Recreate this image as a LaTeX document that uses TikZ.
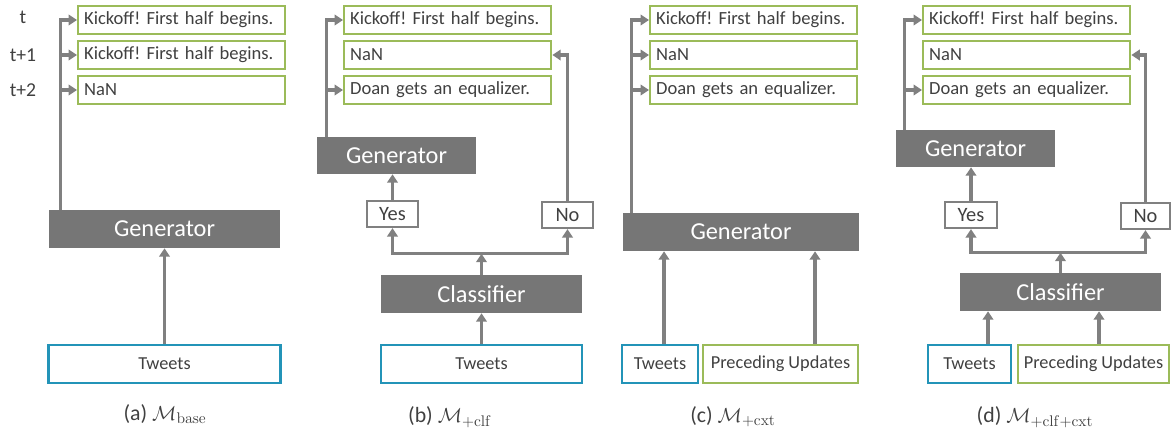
\documentclass[tikz,border=0pt]{standalone}
\usepackage[no-math]{fontspec}
\setmainfont{Carlito}
\usepackage{amsmath}
\usetikzlibrary{arrows.meta,positioning}

\definecolor{linegray}{HTML}{808080}
\definecolor{blockgray}{HTML}{767676}
\definecolor{outgreen}{HTML}{9BBB59}
\definecolor{inblue}{HTML}{2394B8}
\definecolor{txtgray}{HTML}{404040}

% one pixel of the layout
\newcommand{\pxu}{0.025cm}

\tikzset{
  sz/.style 2 args={minimum width=#1*\pxu, minimum height=#2*\pxu},
}

\begin{document}
\frenchspacing
\begin{tikzpicture}[x=\pxu, y=-\pxu]
        % Define the styles
        \tikzstyle{arr}=[draw=linegray, line width=2.3pt, -{Triangle[length=6pt,width=7.5pt]}];
        \tikzstyle{outbox}=[draw=outgreen, line width=1.6pt, anchor=west, inner xsep=0.15cm, inner ysep=0pt,
                            text width=4.875cm, minimum height=0.7cm, align=left, text=txtgray,
                            font=\fontsize{13.2}{15}\selectfont];
        \tikzstyle{block}=[fill=blockgray, inner sep=0pt, text=white, font=\fontsize{17.3}{20}\selectfont];
        \tikzstyle{tweetbox}=[draw=inblue, line width=1.6pt, fill=white, inner sep=0pt, text=txtgray,
                              font=\fontsize{13}{15}\selectfont];
        \tikzstyle{ctxbox}=[tweetbox, draw=outgreen];
        \tikzstyle{decision}=[draw=linegray, line width=1.6pt, inner sep=0pt, text=txtgray,
                              font=\fontsize{14.5}{17}\selectfont];
        \tikzstyle{tlabel}=[text=txtgray, font=\fontsize{14}{16}\selectfont];
        \tikzstyle{caption}=[text=txtgray, font=\fontsize{15.5}{18}\selectfont];

        \useasboundingbox (0,0) rectangle (1171,435);

        % (a) base model
        \node[tlabel] (lt0) at (23,17) {t};
        \node[tlabel] (lt1) at (23,55) {t+1};
        \node[tlabel] (lt2) at (23,90) {t+2};
        \node[outbox] (a1) at (77,20) {Kickoff! First half begins.};
        \node[outbox] (a2) at (77,55) {Kickoff! First half begins.};
        \node[outbox] (a3) at (77,90) {NaN};
        \node[block, sz={231}{38}] (agen) at (164.5,229) {Generator};
        \node[tweetbox, sz={232}{38}] (atw) at (164.5,364) {Tweets};
        \draw[arr] (atw) -- (agen);
        \coordinate (aup) at ([xshift=12*\pxu]agen.north west);
        \draw[arr] (aup) |- (a1.west);
        \draw[arr] (aup) |- (a2.west);
        \draw[arr] (aup) |- (a3.west);
        \node[caption] (capa) at (165,414) {(a) $\mathcal{M}_{\mathrm{base}}$};

        % (b) with classifier
        \node[outbox] (b1) at (343,20) {Kickoff! First half begins.};
        \node[outbox] (b2) at (343,55) {NaN};
        \node[outbox] (b3) at (343,90) {Doan gets an equalizer.};
        \node[block, sz={159}{37}] (bgen) at (396.5,155.5) {Generator};
        \node[decision, sz={51}{26}] (byes) at (392.5,214) {Yes};
        \node[decision, sz={51}{26}] (bno) at (567.5,215) {No};
        \node[block, sz={201}{38}] (bclf) at (481.5,294) {Classifier};
        \node[tweetbox, sz={201}{38}] (btw) at (481.5,364) {Tweets};
        \draw[arr] (btw) -- (bclf);
        \coordinate (bsplit) at ([yshift=21*\pxu]bclf.north);
        \draw[arr] (bclf) -- (bsplit);
        \draw[arr] (bsplit) -| (byes.south);
        \draw[arr] (bsplit) -| (bno.south);
        \draw[arr] (byes.north) -- (byes.north |- bgen.south);
        \draw[arr] (bno.north) |- (b2.east);
        \coordinate (bup) at ([xshift=10*\pxu]bgen.north west);
        \draw[arr] (bup) |- (b1.west);
        \draw[arr] (bup) |- (b3.west);
        \node[caption] (capb) at (450,417) {(b) $\mathcal{M}_{+\mathrm{clf}}$};

        % (c) with context
        \node[outbox] (c1) at (649,20) {Kickoff! First half begins.};
        \node[outbox] (c2) at (649,55) {NaN};
        \node[outbox] (c3) at (649,90) {Doan gets an equalizer.};
        \node[block, sz={236}{38}] (cgen) at (741,232) {Generator};
        \node[tweetbox, sz={76}{38}] (ctw) at (660,364) {Tweets};
        \node[ctxbox, sz={155}{38}] (cpu) at (780.5,364) {Preceding Updates};
        \coordinate (ctwout) at ([xshift=4*\pxu]ctw.north);
        \coordinate (cpuout) at ([xshift=34.5*\pxu]cpu.north);
        \draw[arr] (ctwout) -- (ctwout |- cgen.south);
        \draw[arr] (cpuout) -- (cpuout |- cgen.south);
        \coordinate (cup) at ([xshift=9*\pxu]cgen.north west);
        \draw[arr] (cup) |- (c1.west);
        \draw[arr] (cup) |- (c2.west);
        \draw[arr] (cup) |- (c3.west);
        \node[caption] (capc) at (733,417) {(c) $\mathcal{M}_{+\mathrm{cxt}}$};

        % (d) classifier and context
        \node[outbox] (d1) at (922,20) {Kickoff! First half begins.};
        \node[outbox] (d2) at (922,55) {NaN};
        \node[outbox] (d3) at (922,90) {Doan gets an equalizer.};
        \node[block, sz={159}{37}] (dgen) at (975.5,148.5) {Generator};
        \node[decision, sz={52}{26}] (dyes) at (971,215) {Yes};
        \node[decision, sz={49}{26}] (dno) at (1145.5,216) {No};
        \node[block, sz={201}{38}] (dclf) at (1060.5,292) {Classifier};
        \node[tweetbox, sz={83}{38}] (dtw) at (969.5,364) {Tweets};
        \node[ctxbox, sz={151}{38}] (dpu) at (1093.5,364) {Preceding Updates};
        \coordinate (dtwout) at ([xshift=18.5*\pxu]dtw.north);
        \coordinate (dpuout) at ([xshift=5.5*\pxu]dpu.north);
        \draw[arr] (dtwout) -- (dtwout |- dclf.south);
        \draw[arr] (dpuout) -- (dpuout |- dclf.south);
        \coordinate (dsplit) at ([yshift=20*\pxu]dclf.north);
        \draw[arr] (dclf) -- (dsplit);
        \draw[arr] (dsplit) -| (dyes.south);
        \draw[arr] (dsplit) -| (dno.south);
        \draw[arr] (dyes.north) -- (dyes.north |- dgen.south);
        \draw[arr] (dno.north) |- (d2.east);
        \coordinate (dup) at ([xshift=9*\pxu]dgen.north west);
        \draw[arr] (dup) |- (d1.west);
        \draw[arr] (dup) |- (d3.west);
        \node[caption] (capd) at (1035,417) {(d) $\mathcal{M}_{+\mathrm{clf}+\mathrm{cxt}}$};
\end{tikzpicture}
\end{document}
